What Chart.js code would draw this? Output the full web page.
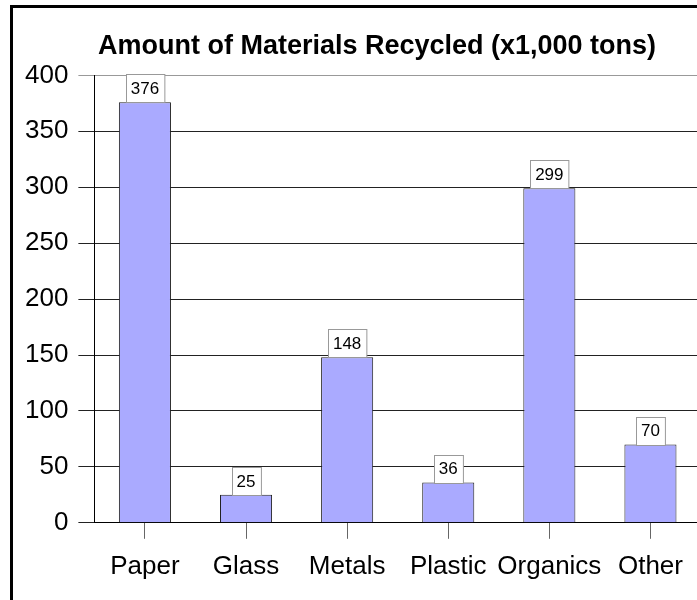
<!DOCTYPE html>
<html>
<head>
<meta charset="utf-8">
<script src="https://cdn.jsdelivr.net/npm/chart.js@4.4.0/dist/chart.umd.min.js"></script>
<style>
  html, body { margin: 0; padding: 0; overflow: hidden; background: #fff; }
  #frame { position: absolute; left: 10px; top: 5px; width: 800px; height: 700px;
           border-left: 3px solid #000; border-top: 3px solid #000; pointer-events: none; }
  #myChart { position: absolute; left: 0; top: 0; }
</style>
</head>
<body>
<canvas id="myChart" width="750" height="600"></canvas>
<div id="frame"></div>
<script>
var categories = ['Paper', 'Glass', 'Metals', 'Plastic', 'Organics', 'Other'];
var recycled = [376, 25, 148, 36, 299, 70];
var yMin = 0, yMax = 400, yStep = 50;

var fontFamily = "'Liberation Sans', Arial, sans-serif";

// value boxes above each bar
var valueBoxes = {
  id: 'valueBoxes',
  afterDatasetsDraw: function(chart) {
    var ctx = chart.ctx;
    var meta = chart.getDatasetMeta(0);
    ctx.save();
    ctx.font = '17px ' + fontFamily;
    ctx.textAlign = 'center';
    ctx.textBaseline = 'middle';
    meta.data.forEach(function(bar, i) {
      var txt = String(chart.data.datasets[0].data[i]);
      var w = ctx.measureText(txt).width + 10;
      var h = 28;
      var x = Math.round(bar.x - w / 2) + 0.5;
      var y = Math.round(bar.y - h) + 0.5;
      ctx.fillStyle = '#fff';
      ctx.fillRect(x, y, w, h);
      ctx.strokeStyle = '#999';
      ctx.lineWidth = 1;
      ctx.strokeRect(x, y, w, h);
      ctx.fillStyle = '#000';
      ctx.fillText(txt, bar.x, bar.y - h / 2 + 1);
    });
    ctx.restore();
  }
};

// the original title is centred on the whole (wider) frame, nudge it right
var titleShift = {
  id: 'titleShift',
  afterLayout: function(chart) {
    if (chart.titleBlock) {
      chart.titleBlock.left += 19;
      chart.titleBlock.right += 19;
    }
  }
};

var ctx = document.getElementById('myChart').getContext('2d');
var myChart = new Chart(ctx, {
  type: 'bar',
  data: {
    labels: categories,
    datasets: [{
      data: recycled,
      backgroundColor: '#aaaaff',
      borderColor: '#222',
      borderWidth: 1,
      barPercentage: 0.515,
      categoryPercentage: 1
    }]
  },
  plugins: [valueBoxes, titleShift],
  options: {
    responsive: false,
    animation: false,
    layout: { padding: { left: 15, right: 49, top: 0, bottom: 6 } },
    plugins: {
      legend: { display: false },
      tooltip: { enabled: false },
      title: {
        display: true,
        text: 'Amount of Materials Recycled (x1,000 tons)',
        color: '#000',
        font: { family: fontFamily, size: 27, weight: 'bold' },
        padding: { top: 30, bottom: 13 }
      }
    },
    scales: {
      x: {
        grid: {
          display: true,
          drawOnChartArea: false,
          offset: false,
          tickLength: 16,
          color: '#666'
        },
        border: { display: true, color: '#000' },
        ticks: {
          color: '#000',
          padding: 12,
          maxRotation: 0,
          minRotation: 0,
          autoSkip: false,
          font: { family: fontFamily, size: 26 }
        }
      },
      y: {
        min: yMin,
        max: yMax,
        grid: {
          tickLength: 16,
          color: function(c) { return c.tick && c.tick.value === yMax ? '#999' : '#222'; }
        },
        border: { display: true, color: '#000' },
        ticks: {
          stepSize: yStep,
          color: '#000',
          padding: 10,
          font: { family: fontFamily, size: 26 }
        }
      }
    }
  }
});
</script>
</body>
</html>
